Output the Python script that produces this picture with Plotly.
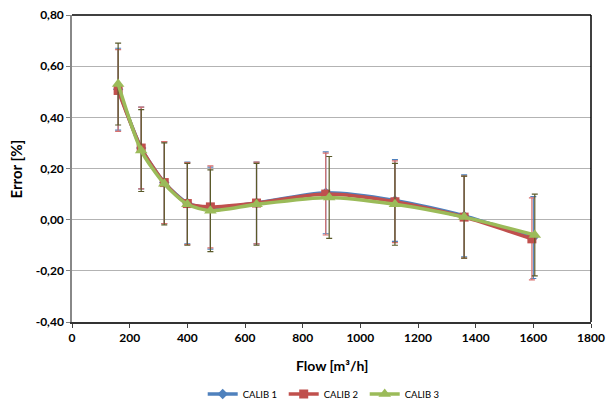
import plotly.graph_objects as go

flow1 = [160, 240, 320, 400, 480, 640, 880, 1120, 1360, 1600]
flow2 = [160, 240, 320, 400, 480, 640, 880, 1120, 1360, 1595]
flow3 = [160, 240, 320, 400, 480, 640, 892, 1120, 1360, 1605]
calib1 = [0.51, 0.28, 0.145, 0.065, 0.045, 0.065, 0.105, 0.075, 0.015, -0.07]
calib2 = [0.505, 0.28, 0.145, 0.063, 0.05, 0.065, 0.10, 0.07, 0.01, -0.075]
calib3 = [0.53, 0.27, 0.14, 0.06, 0.035, 0.06, 0.087, 0.06, 0.01, -0.06]
err1 = [0.16] * 10
err2 = [0.16] * 10
err3 = [0.16] * 10

y_ticks = [-0.4, -0.2, 0.0, 0.2, 0.4, 0.6, 0.8]
y_labels = ["-0,40", "-0,20", "0,00", "0,20", "0,40", "0,60", "0,80"]
x_ticks = [0, 200, 400, 600, 800, 1000, 1200, 1400, 1600, 1800]

font_family = "Lato, 'Open Sans', sans-serif"

fig = go.Figure()
series = [
    ("CALIB 1", flow1, calib1, err1, "#4F81BD", "#4F81BD", "diamond", 8),
    ("CALIB 2", flow2, calib2, err2, "#C0504D", "#D9706D", "square", 9),
    ("CALIB 3", flow3, calib3, err3, "#9BBB59", "#5A5A2A", "triangle-up", 11),
]
for name, xs, ys, err, col, ecol, sym, ms in series:
    fig.add_trace(go.Scatter(
        x=xs, y=ys, name=name, mode="lines+markers",
        line=dict(color=col, width=3.5, shape="spline", smoothing=0.7),
        marker=dict(symbol=sym, size=ms, color=col),
        error_y=dict(type="data", array=err, visible=True, color=ecol,
                     thickness=1.2, width=3),
    ))

fig.update_layout(
    width=606, height=401,
    margin=dict(l=72, r=15, t=15, b=79),
    paper_bgcolor="white", plot_bgcolor="white",
    font=dict(family=font_family, color="#000000"),
    showlegend=True,
    legend=dict(orientation="h", x=0.535, xanchor="center", xref="container",
                y=(401 - 394) / 401, yanchor="middle", yref="container",
                font=dict(size=9.5, family=font_family), itemwidth=30,
                tracegroupgap=0, entrywidth=36, entrywidthmode="pixels"),
    xaxis=dict(
        range=[0, 1800], tickvals=x_ticks, ticks="outside", ticklen=4,
        tickcolor="#404040", showline=True, linecolor="#333333", linewidth=1.5,
        mirror=False, showgrid=False, zeroline=False, automargin=False,
        tickfont=dict(size=12, family=font_family, weight="bold"),
    ),
    yaxis=dict(
        range=[-0.4, 0.8], tickvals=y_ticks, ticktext=y_labels, ticks="outside",
        ticklen=4, tickcolor="#808080", showline=True, linecolor="#888888", linewidth=1.5,
        showgrid=True, gridcolor="#B3B3B3", gridwidth=1.3, zeroline=False, automargin=False,
        tickfont=dict(size=12, family=font_family, weight="bold"),
    ),
    annotations=[
        dict(text="Flow [m³/h]", xref="paper", yref="paper", x=0.5, y=-0.1433,
             xanchor="center", yanchor="middle", showarrow=False,
             font=dict(size=14, family=font_family, weight="bold")),
        dict(text="Error [%]", xref="paper", yref="paper", x=-0.1079, y=0.5,
             xanchor="center", yanchor="middle", showarrow=False, textangle=-90,
             font=dict(size=15, family=font_family, weight="bold")),
    ],
)
# plot area border top and right
fig.add_shape(type="line", xref="paper", yref="paper", x0=0, x1=1, y0=1, y1=1,
              line=dict(color="black", width=1.5))
fig.add_shape(type="line", xref="paper", yref="paper", x0=1, x1=1, y0=0, y1=1,
              line=dict(color="black", width=1.5))

fig.write_html("out.html", config={"displayModeBar": False},
               post_script="document.body.style.margin='0';document.body.style.overflow='hidden';")
